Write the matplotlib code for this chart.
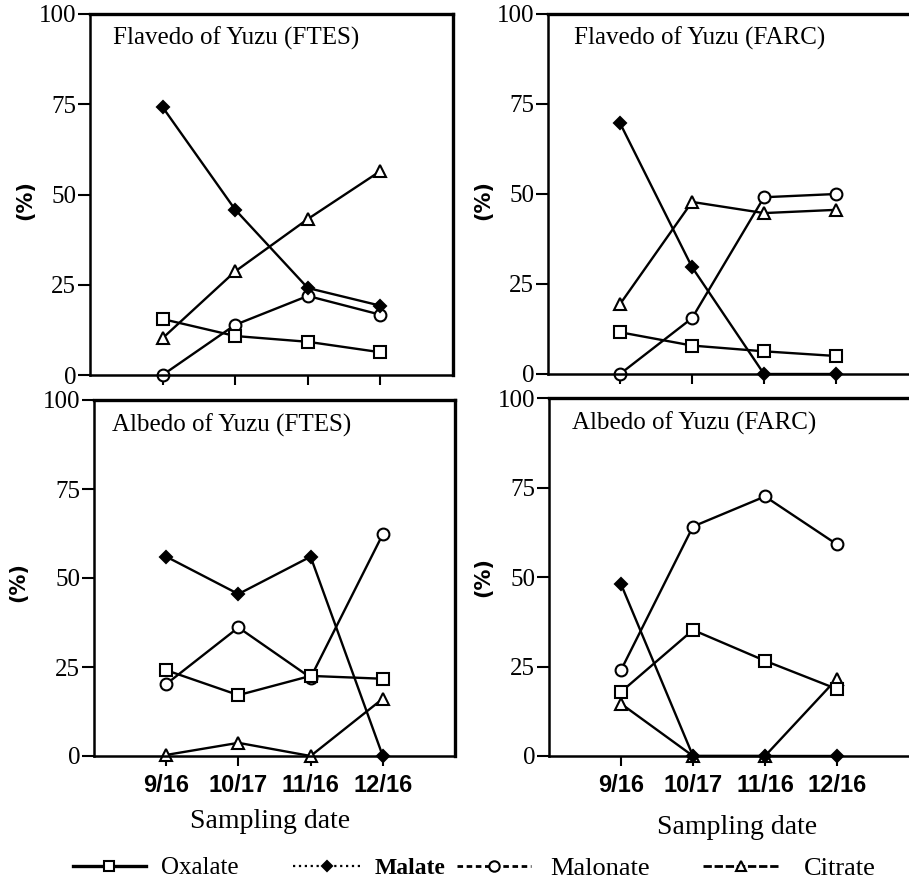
import matplotlib
matplotlib.use("Agg")
import matplotlib.pyplot as plt
from matplotlib.lines import Line2D

# ---------------- data ----------------
dates = ["9/16", "10/17", "11/16", "12/16"]
yticks = [0, 25, 50, 75, 100]

panel_titles = ["Flavedo of Yuzu (FTES)", "Flavedo of Yuzu (FARC)",
                "Albedo of Yuzu (FTES)", "Albedo of Yuzu (FARC)"]

# Flavedo FTES
fl_ftes_oxalate = [15.5, 10.8, 9.2, 6.3]
fl_ftes_malate = [74.2, 45.8, 24.1, 19.2]
fl_ftes_malonate = [0, 13.9, 21.9, 16.7]
fl_ftes_citrate = [10.2, 28.7, 43.2, 56.5]

# Flavedo FARC
fl_farc_oxalate = [11.6, 7.9, 6.3, 5.0]
fl_farc_malate = [69.7, 29.7, 0, 0]
fl_farc_malonate = [0, 15.5, 49.1, 50.0]
fl_farc_citrate = [19.4, 47.8, 44.7, 45.6]

# Albedo FTES
al_ftes_oxalate = [24.1, 17.1, 22.5, 21.7]
al_ftes_malate = [56.0, 45.5, 56.0, 0]
al_ftes_malonate = [20.2, 36.1, 22.0, 62.3]
al_ftes_citrate = [0.3, 3.7, 0, 16.1]

# Albedo FARC
al_farc_oxalate = [17.9, 35.2, 26.6, 18.7]
al_farc_malate = [48.0, 0, 0, 0]
al_farc_malonate = [24.0, 64.1, 72.5, 59.1]
al_farc_citrate = [14.6, 0, 0, 21.6]

series_names = ["Oxalate", "Malate", "Malonate", "Citrate"]

panels = [
    (fl_ftes_oxalate, fl_ftes_malate, fl_ftes_malonate, fl_ftes_citrate),
    (fl_farc_oxalate, fl_farc_malate, fl_farc_malonate, fl_farc_citrate),
    (al_ftes_oxalate, al_ftes_malate, al_ftes_malonate, al_ftes_citrate),
    (al_farc_oxalate, al_farc_malate, al_farc_malonate, al_farc_citrate),
]

# ---------------- style ----------------
W, H = 909, 889
SERIF = "Liberation Serif"
SANS = "Liberation Sans"

markers = {"Oxalate": ("s", "white", 8),
           "Malate": ("D", "black", 6.5),
           "Malonate": ("o", "white", 8.5),
           "Citrate": ("^", "white", 8.5)}
draw_order = ["Citrate", "Malonate", "Malate", "Oxalate"]

# axes rectangles in pixels: left, top, right, bottom(y=0)
rects_px = [
    (90, 14, 453, 375),
    (548, 14, 908, 374),
    (94, 400, 455, 756),
    (549, 398, 909, 756),
]
ylabel_px = [(25, 200), (483, 200), (18, 582), (483, 577)]
title_px = [(113, 45), (574, 45), (112, 432), (572, 430)]
xlabel_px = [None, None, (270, 822), (737, 828)]

fig = plt.figure(figsize=(W / 100, H / 100), dpi=100)

for i, (rect, data) in enumerate(zip(rects_px, panels)):
    l, t, r, b = rect
    ax = fig.add_axes([l / W, 1 - b / H, (r - l) / W, (b - t) / H])
    vals = dict(zip(series_names, data))
    for name in draw_order:
        m, fc, ms = markers[name]
        ax.plot(dates, vals[name], color="black", lw=1.7, marker=m,
                markerfacecolor=fc, markeredgecolor="black",
                markeredgewidth=1.5, markersize=ms, clip_on=False)
    ax.set_xlim(-1, 4)
    ax.set_ylim(0, 100)
    ax.set_yticks(yticks)
    ax.set_yticklabels([str(v) for v in yticks], fontfamily=SERIF, fontsize=18)
    ax.tick_params(axis="y", direction="out", length=9, width=1.5, pad=1)
    ax.tick_params(axis="x", direction="out", length=7, width=1.5, pad=6)
    if i >= 2:
        for lab in ax.get_xticklabels():
            lab.set_fontfamily(SANS)
            lab.set_fontweight("bold")
            lab.set_fontsize(17)
    else:
        ax.set_xticklabels([])
    for side in ["left", "bottom"]:
        ax.spines[side].set_linewidth(1.8)
    ax.spines["top"].set_linewidth(2.4)
    ax.spines["right"].set_linewidth(2.4)
    ax.spines["right"].set_visible(i in (0, 2))

    # y label
    lx, ly = ylabel_px[i]
    ax.text((lx - l) / (r - l), (b - ly) / (b - t), "(%)", transform=ax.transAxes,
            rotation=90, ha="center", va="center", fontfamily="DejaVu Sans",
            fontweight="bold", fontsize=15)
    # panel title
    tx, ty = title_px[i]
    ax.text((tx - l) / (r - l), (b - ty) / (b - t), panel_titles[i],
            transform=ax.transAxes, ha="left", va="baseline",
            fontfamily=SERIF, fontsize=18)
    if xlabel_px[i] is not None:
        sx, sy = xlabel_px[i]
        ax.text((sx - l) / (r - l), (b - sy) / (b - t), "Sampling date",
                transform=ax.transAxes, ha="center", va="center",
                fontfamily=SERIF, fontsize=20)

# ---------------- legend ----------------
leg_y = 1 - 868 / H
legend_specs = [
    # name, x start px, linestyle, lw, handlelength, textpad, fontsize, weight
    ("Oxalate", 73, "-", 2.4, 2.9, 0.64, 18, "normal"),
    ("Malate", 293, ":", 1.6, 2.9, 0.55, 17, "bold"),
    ("Malonate", 457, (0, (2, 1.3)), 2.0, 2.8, 0.72, 19, "normal"),
    ("Citrate", 703, (0, (3, 1)), 2.0, 2.9, 0.92, 19, "normal"),
]
for name, x0, ls, lw, hl, tp, fs, fw in legend_specs:
    m, fc, ms = markers[name]
    h = Line2D([], [], color="black", linestyle=ls, lw=lw, marker=m,
               markerfacecolor=fc, markeredgecolor="black",
               markeredgewidth=1.5, markersize=ms - 1)
    leg = fig.legend([h], [name], loc="center left",
                     bbox_to_anchor=(x0 / W, leg_y), frameon=False,
                     borderpad=0, borderaxespad=0, handlelength=hl,
                     handletextpad=tp, numpoints=1,
                     prop={"family": SERIF, "size": fs, "weight": fw})

fig.savefig("out.png", dpi=100)
